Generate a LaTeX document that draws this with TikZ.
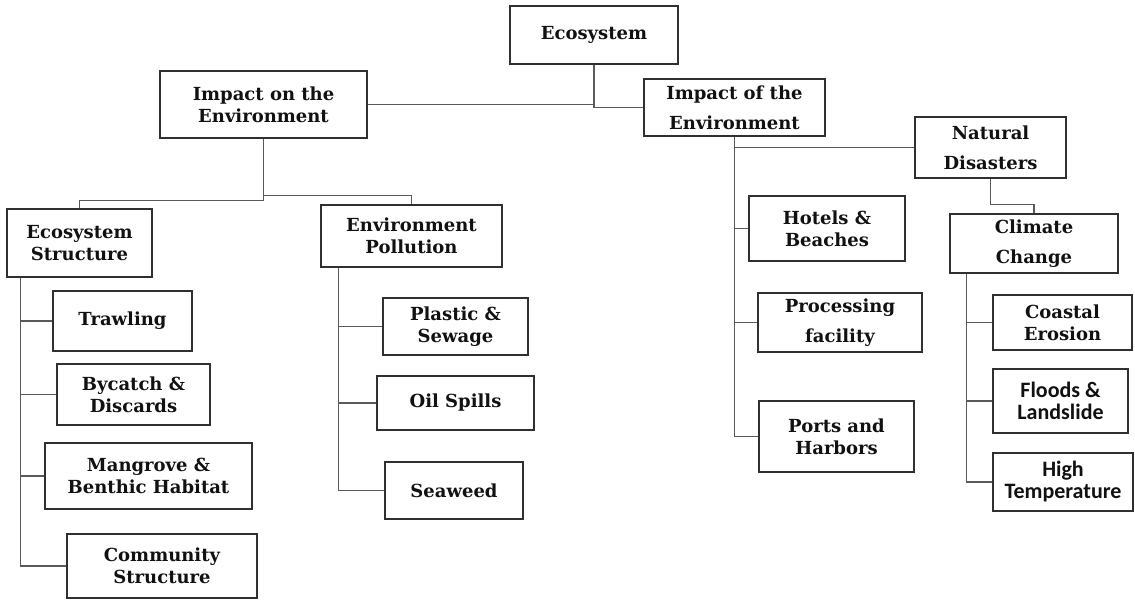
\documentclass[tikz,border=0pt]{standalone}
\usepackage{fontspec}
\setmainfont{DejaVu Serif}
\newfontfamily\boxsans{Carlito}
\usetikzlibrary{calc}
\definecolor{linegray}{HTML}{5A5A5A}
\definecolor{boxgray}{HTML}{303030}
\definecolor{txt}{HTML}{111111}
\tikzset{
  box/.style={draw=boxgray, line width=1.2pt, rectangle, align=center, inner sep=0pt,
    text=txt, font=\bfseries\fontsize{18}{22}\selectfont},
  boxwide/.style={box, font=\bfseries\fontsize{18}{30}\selectfont},
  boxsf/.style={box, font=\boxsans\bfseries\fontsize{22}{22}\selectfont},
  conn/.style={draw=linegray, line width=1.2pt}
}
\begin{document}
\begin{tikzpicture}[x=1pt,y=-1pt]
\useasboundingbox (0,0) rectangle (1135,603);
% top
\node[box, minimum width=168, minimum height=58] (eco) at (594,35) {Ecosystem};
\node[box, minimum width=207, minimum height=67] (ion) at (263.5,104.5) {Impact on the\\Environment};
\node[boxwide, minimum width=181, minimum height=57] (iof) at (734.5,107.5) {Impact of the\\Environment};
% left branch
\node[box, minimum width=145, minimum height=68] (es) at (79.5,243) {Ecosystem\\Structure};
\node[box, minimum width=181, minimum height=62] (ep) at (411.5,236) {Environment\\Pollution};
\node[box, minimum width=139, minimum height=60] (tr) at (122.5,321) {Trawling};
\node[box, minimum width=153, minimum height=61] (by) at (133.5,394.5) {Bycatch \&\\Discards};
\node[box, minimum width=207, minimum height=66] (mg) at (148.5,476) {Mangrove \&\\Benthic Habitat};
\node[box, minimum width=190, minimum height=64] (cs) at (162,566) {Community\\Structure};
\node[box, minimum width=145, minimum height=57] (pl) at (455.5,326.5) {Plastic \&\\Sewage};
\node[box, minimum width=157, minimum height=54] (oil) at (455.5,403) {Oil Spills};
\node[box, minimum width=138, minimum height=57] (sw) at (454,490.5) {Seaweed};
% right branch
\node[boxwide, minimum width=151, minimum height=61] (nd) at (990.5,147.5) {Natural\\Disasters};
\node[boxwide, minimum width=168, minimum height=59] (cc) at (1034,243.5) {Climate\\Change};
\node[box, minimum width=156, minimum height=65] (hb) at (827,228.5) {Hotels \&\\Beaches};
\node[boxwide, minimum width=164, minimum height=59] (pf) at (840,322.5) {Processing\\facility};
\node[box, minimum width=155, minimum height=71] (ph) at (836.5,436.5) {Ports and\\Harbors};
\node[box, minimum width=139, minimum height=55] (ce) at (1062.5,322.5) {Coastal\\Erosion};
\node[boxsf, minimum width=135, minimum height=64] (fl) at (1060.5,401) {Floods \&\\Landslide};
\node[boxsf, minimum width=140, minimum height=58] (ht) at (1063,482) {High\\Temperature};
% trunk coordinates
\coordinate (estop) at ($(es.south west)+(14,0)$);
\coordinate (eptop) at ($(ep.south west)+(18,0)$);
\coordinate (cctop) at ($(cc.south west)+(17,0)$);
\coordinate (ionj1) at ($(ion.south)+(0,57)$);
\coordinate (ionj2) at ($(ion.south)+(0,62)$);
\coordinate (ndj) at ($(nd.south)+(0,26)$);
% connectors
\draw[conn] (eco.south) |- (ion.east);
\draw[conn] (eco.south) |- (iof.west);
\draw[conn] (ion.south) -- (ionj2);
\draw[conn] (ionj1) -| (ep.north);
\draw[conn] (ionj2) -| (es.north);
\draw[conn] (estop) |- (cs.west);
\draw[conn] (estop |- tr.west) -- (tr.west);
\draw[conn] (estop |- by.west) -- (by.west);
\draw[conn] (estop |- mg.west) -- (mg.west);
\draw[conn] (eptop) |- (sw.west);
\draw[conn] (eptop |- pl.west) -- (pl.west);
\draw[conn] (eptop |- oil.west) -- (oil.west);
\draw[conn] (iof.south) |- (ph.west);
\draw[conn] (iof.south |- nd.west) -- (nd.west);
\draw[conn] (iof.south |- hb.west) -- (hb.west);
\draw[conn] (iof.south |- pf.west) -- (pf.west);
\draw[conn] (nd.south) -- (ndj) -| (cc.north);
\draw[conn] (cctop) |- (ht.west);
\draw[conn] (cctop |- ce.west) -- (ce.west);
\draw[conn] (cctop |- fl.west) -- (fl.west);
\end{tikzpicture}
\end{document}
